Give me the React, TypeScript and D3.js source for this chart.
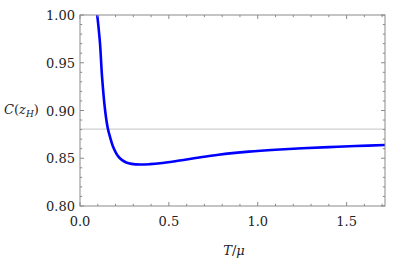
import React from "react";
import * as d3 from "d3";

// curve C(z_H) against T/mu
const tValues = [0.09, 0.097, 0.1125, 0.124, 0.141, 0.156, 0.17, 0.185, 0.2, 0.215, 0.235, 0.26, 0.29, 0.338, 0.394, 0.45, 0.55, 0.65, 0.78, 0.95, 1.1, 1.25, 1.4, 1.55, 1.72];
const cValues = [1.012, 1.0, 0.9704, 0.9354, 0.9005, 0.8817, 0.8715, 0.8625, 0.8565, 0.852, 0.8483, 0.8456, 0.8441, 0.8434, 0.8438, 0.8447, 0.8473, 0.8502, 0.8537, 0.8569, 0.8589, 0.8604, 0.8617, 0.8628, 0.8639];
const refLine = 0.8806;

const xMajor = [0, 0.5, 1.0, 1.5];
const yMajor = [0.8, 0.85, 0.9, 0.95, 1.0];

const W = 399;
const H = 275;
const m = { left: 80, right: 14, top: 15, bottom: 69 };

export default function App() {
  const x = d3.scaleLinear().domain([0, 1.716]).range([m.left, W - m.right]);
  const y = d3.scaleLinear().domain([0.8, 1.0]).range([H - m.bottom, m.top]);

  const pts: [number, number][] = tValues.map((t, i) => [t, cValues[i]]);
  const line = d3
    .line<[number, number]>()
    .x((d) => x(d[0]))
    .y((d) => y(d[1]))
    .curve(d3.curveCatmullRom.alpha(0.5));

  const xMinor = d3.range(0, 1.72, 0.1).filter((v) => !xMajor.some((mj) => Math.abs(mj - v) < 1e-6));
  const yMinor = d3.range(0.8, 1.0001, 0.01).filter((v) => !yMajor.some((mj) => Math.abs(mj - v) < 1e-6));

  const x0 = m.left, x1 = W - m.right, y0 = m.top, y1 = H - m.bottom;
  const frame = "#8a8a8a";
  const font = "DejaVu Serif";

  return (
    <svg width={W} height={H} style={{ position: "absolute", left: 0, top: 0, background: "#fff" }}>
      <defs>
        <clipPath id="plot">
          <rect x={x0} y={y0} width={x1 - x0} height={y1 - y0} />
        </clipPath>
      </defs>

      {/* reference line */}
      <line x1={x0} x2={x1} y1={y(refLine)} y2={y(refLine)} stroke="#d0d0d0" strokeWidth={1.2} />

      <path d={line(pts) ?? ""} fill="none" stroke="#0000ff" strokeWidth={2.6} clipPath="url(#plot)" />

      {/* frame */}
      <rect x={x0} y={y0} width={x1 - x0} height={y1 - y0} fill="none" stroke={frame} strokeWidth={1} />

      {/* x ticks, bottom and top, inward */}
      {xMajor.map((v) => (
        <g key={"xm" + v}>
          <line x1={x(v)} x2={x(v)} y1={y1} y2={y1 - 4} stroke={frame} />
          <line x1={x(v)} x2={x(v)} y1={y0} y2={y0 + 4} stroke={frame} />
          <text x={x(v)} y={y1 + 20} textAnchor="middle" fontFamily={font} fontSize={13} fill="#222">
            {v.toFixed(1)}
          </text>
        </g>
      ))}
      {xMinor.map((v) => (
        <g key={"xn" + v}>
          <line x1={x(v)} x2={x(v)} y1={y1} y2={y1 - 2.2} stroke={frame} />
          <line x1={x(v)} x2={x(v)} y1={y0} y2={y0 + 2.2} stroke={frame} />
        </g>
      ))}

      {/* y ticks, left and right, inward */}
      {yMajor.map((v) => (
        <g key={"ym" + v}>
          <line x1={x0} x2={x0 + 4} y1={y(v)} y2={y(v)} stroke={frame} />
          <line x1={x1} x2={x1 - 4} y1={y(v)} y2={y(v)} stroke={frame} />
          <text x={x0 - 5} y={y(v) + 5} textAnchor="end" fontFamily={font} fontSize={13} fill="#222">
            {v.toFixed(2)}
          </text>
        </g>
      ))}
      {yMinor.map((v) => (
        <g key={"yn" + v}>
          <line x1={x0} x2={x0 + 2.2} y1={y(v)} y2={y(v)} stroke={frame} />
          <line x1={x1} x2={x1 - 2.2} y1={y(v)} y2={y(v)} stroke={frame} />
        </g>
      ))}

      {/* axis labels */}
      <text x={4} y={114} fontFamily={font} fontSize={13} fill="#222">
        <tspan fontStyle="italic">C</tspan>(<tspan fontStyle="italic">z</tspan>
        <tspan fontStyle="italic" fontSize={9} dy={3}>H</tspan>
        <tspan dy={-3}>)</tspan>
      </text>
      <text x={234} y={255} textAnchor="middle" fontFamily={font} fontSize={13} fill="#222">
        <tspan fontStyle="italic">T</tspan>/<tspan fontStyle="italic">μ</tspan>
      </text>
    </svg>
  );
}
